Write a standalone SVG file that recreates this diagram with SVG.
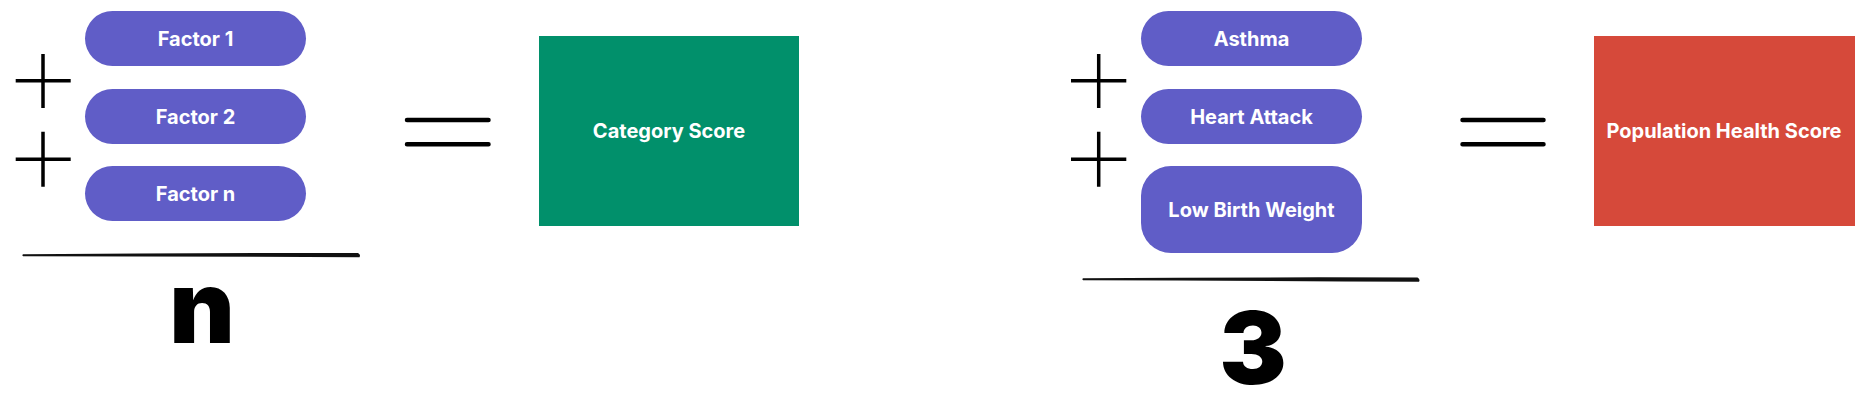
<svg xmlns="http://www.w3.org/2000/svg" width="1868" height="404" viewBox="0 0 1868 404">
<style>
.pill{fill:#605DC7}
.lbl{font-family:Inter,"Liberation Sans",sans-serif;font-weight:700;font-size:20px;fill:#fff;text-anchor:middle}
.op{stroke:#000;stroke-width:3.5;stroke-linecap:butt;fill:none}
.eq{stroke:#000;stroke-width:4.5;stroke-linecap:round;fill:none}
.big{font-family:Inter,"Liberation Sans",sans-serif;font-weight:900;font-size:101px;fill:#000;text-anchor:middle}
.bar{fill:#111}
</style>
<rect width="1868" height="404" fill="#fff"/>
<g id="connectors">
  <path class="op" d="M43 54V108M15.7 80.7H70.7M43 131.7V186.7M15.7 159.3H70.7"/>
  <path class="eq" d="M407 120H488.5M407 144.3H488.5"/>
  <path class="bar" d="M23 254.2 Q190 252.6 358 253 Q361 254.5 359.5 257.3 Q190 256.3 23 256.2 Q21.8 255.2 23 254.2Z"/>
  <path class="op" d="M1098.7 54V108M1071 80.7H1126.3M1098.7 131.7V186.7M1071 159.3H1126.3"/>
  <path class="eq" d="M1462.5 120H1543.5M1462.5 144.3H1543.5"/>
  <path class="bar" d="M1083 278.2 Q1250 277 1417.5 277.5 Q1420.5 279.2 1419 281.8 Q1250 280.6 1083 280.2 Q1081.8 279.2 1083 278.2Z"/>
</g>
<g id="factor1"><rect class="pill" x="85" y="11" width="221" height="55" rx="27.5"/><text class="lbl" x="195.5" y="46">Factor 1</text></g>
<g id="factor2"><rect class="pill" x="85" y="89" width="221" height="55" rx="27.5"/><text class="lbl" x="195.5" y="124">Factor 2</text></g>
<g id="factorn"><rect class="pill" x="85" y="166" width="221" height="55" rx="27.5"/><text class="lbl" x="195.5" y="201">Factor n</text></g>
<g id="denom-n"><text class="big" x="202" y="343">n</text></g>
<g id="category-score"><rect x="539" y="36" width="260" height="190" fill="#01906B"/><text class="lbl" x="669" y="137.5">Category Score</text></g>
<g id="asthma"><rect class="pill" x="1141" y="11" width="221" height="55" rx="27.5"/><text class="lbl" x="1251.5" y="46">Asthma</text></g>
<g id="heart-attack"><rect class="pill" x="1141" y="89" width="221" height="55" rx="27.5"/><text class="lbl" x="1251.5" y="124">Heart Attack</text></g>
<g id="low-birth-weight"><rect class="pill" x="1141" y="166" width="221" height="87" rx="30"/><text class="lbl" x="1251.5" y="216.5">Low Birth Weight</text></g>
<g id="denom-3"><text class="big" x="1253" y="384">3</text></g>
<g id="population-health-score"><rect x="1594" y="36" width="261" height="190" fill="#D6493A"/><text class="lbl" x="1724" y="137.5">Population Health Score</text></g>
</svg>
